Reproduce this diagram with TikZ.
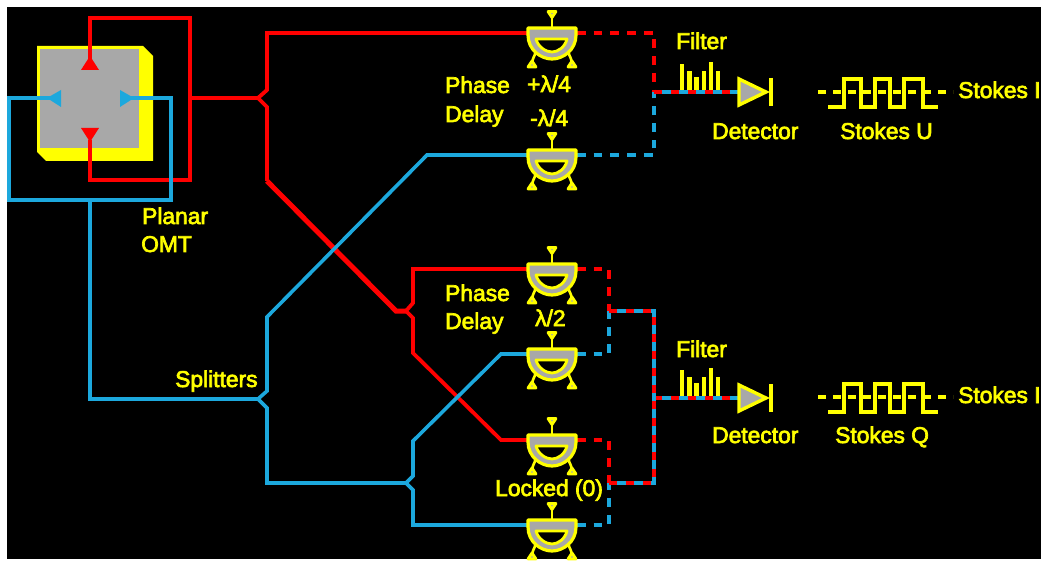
\documentclass[tikz,border=0pt]{standalone}
\usepackage{fontspec}
\setmainfont[FakeBold=3]{Liberation Sans}
\usetikzlibrary{calc}
\definecolor{ored}{RGB}{255,0,0}
\definecolor{oblue}{RGB}{28,168,221}
\definecolor{oyel}{RGB}{255,255,0}
\definecolor{ogray}{RGB}{168,168,168}
\tikzset{
  x=1pt,y=-1pt,
  redline/.style={draw=ored,line width=3.8pt,line join=miter},
  blueline/.style={draw=oblue,line width=3.6pt,line join=miter},
  reddash/.style={draw=ored,line width=4pt,dash pattern=on 8.7pt off 8pt},
  bluedash/.style={draw=oblue,line width=3.6pt,dash pattern=on 8.7pt off 8pt},
  mixnode/.style={rectangle,minimum width=50pt,minimum height=0pt,inner sep=0pt,outer sep=0pt},
  lab/.style={text=oyel,font=\fontsize{22.8}{24}\selectfont,anchor=base west,inner sep=0pt},
  tip/.style={fill=oyel,draw=oyel,line width=1pt,line join=round},
  yline/.style={draw=oyel,line width=3.4pt},
  mixer/.pic={
    \draw[yline,line width=2.6pt] (0,-18) -- (0,-6);
    \draw[tip,fill=ogray,line width=2.8pt] (-4,-21.5) -- (4,-21.5) -- (0,-15.5) -- cycle;
    \draw[yline,line width=2.6pt] (-17,16) .. controls (-15,20) and (-19,24) .. (-20,29);
    \draw[yline,line width=2.6pt] (17,16) .. controls (15,20) and (19,24) .. (20,29);
    \draw[tip,fill=ogray,line width=2.8pt] (-20,28) -- (-24,34) -- (-16,34) -- cycle;
    \draw[tip,fill=ogray,line width=2.8pt] (20,28) -- (16,34) -- (24,34) -- cycle;
    \draw[draw=oyel,fill=ogray,line width=3.2pt,line join=round] (-24,-5) -- (24,-5) -- (24,2)
       .. controls (24,17) and (11,26) .. (0,26) .. controls (-11,26) and (-24,17) .. (-24,2) -- cycle;
    \draw[draw=oyel,fill=black,line width=2.8pt,line join=round] (-16,6) -- (15,6)
       .. controls (13,14) and (6,19) .. (0,19) .. controls (-6,19) and (-14,14) .. (-16,6) -- cycle;
  },
  filterbars/.pic={
    \foreach \bx/\by in {682/-28,689.5/-21,696.5/-15,704/-21,711/-30,718/-21}
      \fill[oyel] (\bx-2.4,0) rectangle (\bx+2.4,\by);
  },
  diode/.pic={
    \draw[draw=oyel,fill=ogray,line width=3.4pt,line join=miter] (0,-13) -- (0,13) -- (27,0) -- cycle;
    \draw[yline] (32,-14) -- (32,14);
  },
  swave/.pic={
    \draw[yline,dash pattern=on 8pt off 7pt] (818,0) -- (953,0);
    \draw[yline,line join=miter] (828,15) -- (844,15) -- (844,-13) -- (861,-13) -- (861,15) -- (875,15) -- (875,-13)
      -- (890,-13) -- (890,15) -- (904,15) -- (904,-13) -- (923,-13) -- (923,15) -- (938,15);
  }
}
\begin{document}
\begin{tikzpicture}
\useasboundingbox (0,0) rectangle (1041,561);
\fill[white] (0,0) rectangle (1041,561);
\fill[black] (7,7) rectangle (1041,559);

% named points
\coordinate (omtT) at (90,60);
\coordinate (omtB) at (90,140);
\coordinate (omtL) at (50,98);
\coordinate (omtR) at (130,98);
\coordinate (redTap) at (190,98);
\coordinate (blueTap) at (90,200);
\coordinate (sA) at (258,98);
\coordinate (sB) at (406,311);
\coordinate (sC) at (258,399);
\coordinate (sD) at (406,483);
\node[mixnode] (m1) at (552,33) {};
\node[mixnode] (m2) at (552,155) {};
\node[mixnode] (m3) at (552,269) {};
\node[mixnode] (m4) at (552,354) {};
\node[mixnode] (m5) at (552,440) {};
\node[mixnode] (m6) at (552,525) {};
\coordinate (jT) at (654,92);
\coordinate (jB) at (654,398);
\coordinate (jU) at (609,311);
\coordinate (jL) at (609,483);
\coordinate (d1) at (739,92);
\coordinate (d2) at (739,398);

% OMT
\fill[oyel] (37,46) -- (143,46) -- (153,56) -- (153,161) -- (46,161) -- (37,152) -- cycle;
\fill[ogray] (40,49) rectangle (139,148);

% loops
\draw[redline] (omtT) -- (90,18) -- (190,18) -- (190,180) -- (90,180) -- (omtB);
\draw[blueline] (omtL) -- (9,98) -- (9,200) -- (171,200) -- (171,98) -- (omtR);
\draw[blueline] (blueTap) -- (90,399) -- (sC);
\draw[redline] (redTap) -- (sA);

% OMT ports
\fill[ored] (90,56) -- (81,70) -- (99,70) -- cycle;
\fill[ored] (90,142) -- (81,128) -- (99,128) -- cycle;
\fill[oblue] (47,98) -- (61,90) -- (61,107) -- cycle;
\fill[oblue] (134,98) -- (120,90) -- (120,107) -- cycle;

% split lines
\draw[redline] (sA) -- (267,90) -- (267,33) -- (m1.west);
\draw[redline] (sA) -- (267,107) -- (267,181);
\draw[redline,line width=5pt] (267,181) -- (396,311) -- (sB);
\draw[redline] (sB) -- (413,303) -- (413,269) -- (m3.west);
\draw[redline] (sB) -- (413,318) -- (413,353) -- (501,440) -- (m5.west);
\draw[blueline] (sC) -- (267,391) -- (267,317) -- (427,155) -- (m2.west);
\draw[blueline] (sC) -- (267,408) -- (267,483) -- (sD);
\draw[blueline] (sD) -- (413,476) -- (413,441) -- (501,354) -- (m4.west);
\draw[blueline] (sD) -- (413,490) -- (413,525) -- (m6.west);

% dashed outputs
\draw[reddash] (m1.east) -- (654,33) -- (jT);
\draw[bluedash] (m2.east) -- (654,155) -- (jT);
\draw[reddash] (m3.east) -- (609,269) -- (jU);
\draw[bluedash] (m4.east) -- (609,354) -- (jU);
\draw[reddash] (m5.east) -- (609,440) -- (jL);
\draw[bluedash] (m6.east) -- (609,525) -- (jL);

% filter bars (behind combined line)
\path (0,92) pic {filterbars};
\path (0,398) pic {filterbars};

% combined lines
\draw[blueline] (jT) -- (d1);
\draw[reddash,dash pattern=on 8pt off 9pt] (jT) -- (d1);
\draw[blueline] (jB) -- (d2);
\draw[reddash,dash pattern=on 8pt off 9pt] (jB) -- (d2);
\draw[blueline] (jU) -- (654,311) -- (jB);
\draw[reddash,dash pattern=on 8pt off 9pt] (jU) -- (654,311) -- (jB);
\draw[blueline] (jL) -- (654,483) -- (jB);
\draw[reddash,dash pattern=on 8pt off 9pt] (jL) -- (654,483) -- (jB);

% mixers
\foreach \m in {m1,m2,m3,m4,m5,m6} \path (\m) pic {mixer};

% detectors
\path (d1) pic {diode};
\path (d2) pic {diode};

% waves
\path (0,92) pic {swave};
\path (0,397) pic {swave};

% labels
\node[lab] (tPlanar) at (142,224) {Planar};
\node[lab] (tOMT) at (141,252) {OMT};
\node[lab] (tSplit) at (175,387) {Splitters};
\node[lab] (tPh1) at (445,93) {Phase};
\node[lab] (tDe1) at (445,122) {Delay};
\node[lab] (tPl) at (527,92) {+λ/4};
\node[lab] (tMi) at (530,126) {-λ/4};
\node[lab] (tF1) at (676,49) {Filter};
\node[lab] (tDet1) at (712,139) {Detector};
\node[lab] (tU) at (840,139) {Stokes U};
\node[lab] (tI1) at (958,98) {Stokes I};
\node[lab] (tPh2) at (445,301) {Phase};
\node[lab] (tDe2) at (445,329) {Delay};
\node[lab] (tHalf) at (535,326) {λ/2};
\node[lab] (tLock) at (495,496) {Locked (0)};
\node[lab] (tF2) at (676,357) {Filter};
\node[lab] (tDet2) at (712,443) {Detector};
\node[lab] (tQ) at (835,443) {Stokes Q};
\node[lab] (tI2) at (958,403) {Stokes I};
\end{tikzpicture}
\end{document}
